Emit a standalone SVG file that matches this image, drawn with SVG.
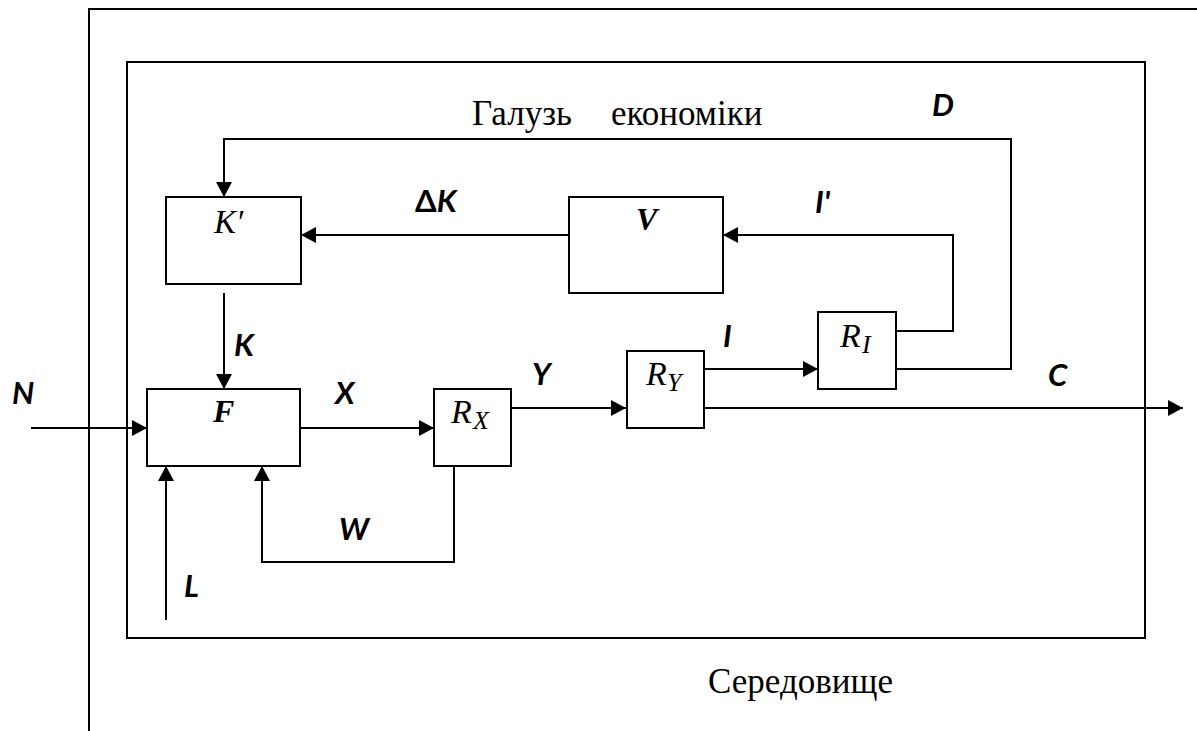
<svg xmlns="http://www.w3.org/2000/svg" width="1197" height="731" viewBox="0 0 1197 731">
  <style>
    .frame { fill: none; stroke: #000; stroke-width: 2; }
    .box { fill: #fff; stroke: #000; stroke-width: 2; }
    .wire { fill: none; stroke: #000; stroke-width: 2; }
    .lbl { font-family: Lato, "Open Sans", "Liberation Sans", sans-serif; font-weight: bold; font-style: italic; font-size: 31px; fill: #000; }
    .sym { font-family: "Liberation Serif", "Times New Roman", serif; font-style: italic; fill: #000; }
    .symb { font-family: "Liberation Serif", "Times New Roman", serif; font-style: italic; font-weight: bold; font-size: 32px; fill: #000; }
    .cap { font-family: "Liberation Serif", "Times New Roman", serif; font-size: 35px; fill: #000; }
  </style>
  <defs>
    <marker id="arrow" markerUnits="userSpaceOnUse" markerWidth="15" markerHeight="16" refX="15" refY="8" orient="auto">
      <path d="M0,0 L15,8 L0,16 Z" fill="#000"/>
    </marker>
  </defs>

  <rect width="1197" height="731" fill="#fff"/>

  <!-- environment frame (open on the right and bottom) -->
  <g id="environment">
    <path class="frame" d="M89,731 V9 H1197"/>
    <text class="cap" x="708" y="693" font-size="33">Середовище</text>
  </g>

  <!-- industry boundary -->
  <g id="industry">
    <rect class="frame" x="127" y="62" width="1018" height="576"/>
    <text class="cap" x="472" y="125">Галузь</text>
    <text class="cap" x="611" y="125">економіки</text>
  </g>

  <!-- connectors -->
  <g id="connectors">
    <line class="wire" x1="31" y1="428" x2="147" y2="428" marker-end="url(#arrow)"/>
    <line class="wire" x1="166" y1="620" x2="166" y2="466" marker-end="url(#arrow)"/>
    <polyline class="wire" points="454,466 454,562 262,562 262,466" marker-end="url(#arrow)"/>
    <line class="wire" x1="300" y1="428" x2="434" y2="428" marker-end="url(#arrow)"/>
    <line class="wire" x1="511" y1="408" x2="626" y2="408" marker-end="url(#arrow)"/>
    <line class="wire" x1="704" y1="408" x2="1183" y2="408" marker-end="url(#arrow)"/>
    <line class="wire" x1="704" y1="369" x2="818" y2="369" marker-end="url(#arrow)"/>
    <polyline class="wire" points="896,331 953,331 953,235 723,235" marker-end="url(#arrow)"/>
    <polyline class="wire" points="896,369 1011,369 1011,139 224,139 224,197" marker-end="url(#arrow)"/>
    <line class="wire" x1="569" y1="235" x2="301" y2="235" marker-end="url(#arrow)"/>
    <line class="wire" x1="224" y1="293" x2="224" y2="389" marker-end="url(#arrow)"/>
  </g>

  <!-- signal labels -->
  <g id="labels">
    <text class="lbl" x="12" y="404">N</text>
    <text class="lbl" x="335" y="404">X</text>
    <text class="lbl" x="532" y="385">Y</text>
    <text class="lbl" x="1048" y="386">C</text>
    <text class="lbl" x="932" y="116">D</text>
    <text class="lbl" x="339" y="540">W</text>
    <text class="lbl" x="184" y="597">L</text>
    <text class="lbl" x="234" y="356">K</text>
    <text class="lbl" x="815" y="213">I'</text>
    <text class="lbl" x="723" y="347" font-style="normal">I</text>
    <text class="lbl" x="415" y="212"><tspan font-style="normal">Δ</tspan>K</text>
  </g>

  <g id="node-F">
    <rect class="box" x="147" y="389" width="153" height="77"/>
    <text class="symb" x="213" y="422">F</text>
  </g>

  <g id="node-Kprime">
    <rect class="box" x="166" y="197" width="135" height="87"/>
    <text class="sym" x="214" y="233" font-size="33">K′</text>
  </g>

  <g id="node-V">
    <rect class="box" x="569" y="197" width="154" height="96"/>
    <text class="symb" x="636" y="230">V</text>
  </g>

  <g id="node-RX">
    <rect class="box" x="434" y="389" width="77" height="77"/>
    <text class="sym" x="451" y="423" font-size="34">R</text>
    <text class="sym" x="473" y="429" font-size="26">X</text>
  </g>

  <g id="node-RY">
    <rect class="box" x="627" y="351" width="77" height="77"/>
    <text class="sym" x="646" y="385" font-size="34">R</text>
    <text class="sym" x="667" y="391" font-size="26">Y</text>
  </g>

  <g id="node-RI">
    <rect class="box" x="818" y="312" width="78" height="77"/>
    <text class="sym" x="840" y="347" font-size="34">R</text>
    <text class="sym" x="862" y="353" font-size="26">I</text>
  </g>
</svg>
